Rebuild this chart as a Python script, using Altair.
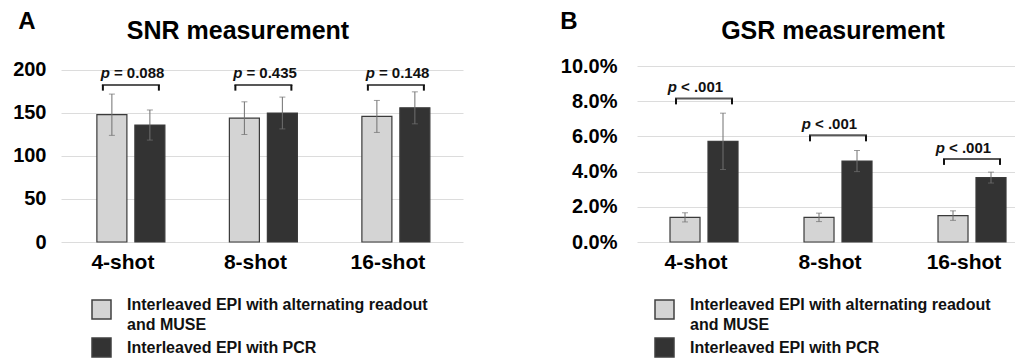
import altair as alt
import pandas as pd

FONT = "Liberation Sans"

categories = ["4-shot", "8-shot", "16-shot"]
series = ["Interleaved EPI with alternating readout and MUSE", "Interleaved EPI with PCR"]
colors = ["#d4d4d4", "#333333"]

# SNR values (mean, half error bar)
snr_muse = [148, 144, 146]
snr_muse_err = [24, 19, 18.6]
snr_pcr = [136, 150, 156]
snr_pcr_err = [17.5, 18.5, 18.6]
snr_p = ["= 0.088", "= 0.435", "= 0.148"]
snr_bracket_top = [182.6, 182.6, 182.6]
snr_bracket_leg = [176, 176, 176]
snr_text_y = [196.5, 196.5, 196.5]

# GSR values (fractions)
gsr_muse = [0.0140, 0.0140, 0.0150]
gsr_muse_err = [0.0026, 0.0024, 0.0027]
gsr_pcr = [0.0572, 0.0460, 0.0366]
gsr_pcr_err = [0.0160, 0.0060, 0.0031]
gsr_p = ["< .001", "< .001", "< .001"]
gsr_bracket_top = [0.0816, 0.0606, 0.0472]
gsr_bracket_leg = [0.0782, 0.0572, 0.0438]
gsr_text_y = [0.0880, 0.0670, 0.0536]

snr_ticks = [0, 50, 100, 150, 200]
gsr_ticks = [0, 0.02, 0.04, 0.06, 0.08, 0.1]

panel_letters = ["A", "B"]
panel_titles = ["SNR measurement", "GSR measurement"]


def bars_df(m, me, p, pe):
    rows = []
    for i, c in enumerate(categories):
        rows.append(dict(cat=c, series=series[0], v=m[i], lo=m[i] - me[i], hi=m[i] + me[i]))
        rows.append(dict(cat=c, series=series[1], v=p[i], lo=p[i] - pe[i], hi=p[i] + pe[i]))
    return pd.DataFrame(rows)


def ann_df(top, leg, ty, txt):
    return pd.DataFrame(dict(cat=categories, top=top, leg=leg, ty=ty, txt=txt))


label_expr = ("test(/ and /, datum.label) ? "
              "split(replace(datum.label, ' and ', '|and '), '|') : datum.label")


def panel(df, ann, letter, title, width, height, ydomain, yvalues, yfmt,
          pi, po, align, lab_pad, legx, legy, letter_xy, title_xy, pdx, half):
    x = alt.X("cat:N", sort=categories, title=None,
              scale=alt.Scale(paddingInner=pi, paddingOuter=po, align=align),
              axis=alt.Axis(labelFont=FONT, labelFontSize=21, labelFontWeight="bold",
                            labelColor="#000", labelAngle=0, ticks=False, domain=False,
                            labelPadding=9, labelOffset=-8))
    xo = alt.XOffset("series:N", sort=series,
                     scale=alt.Scale(paddingInner=0.21, paddingOuter=0))
    y = alt.Y("v:Q", title=None,
              scale=alt.Scale(domain=ydomain, nice=False),
              axis=alt.Axis(values=yvalues, tickCount=len(yvalues), format=yfmt,
                            labelFont=FONT, labelFontSize=20,
                            labelFontWeight="bold", labelColor="#000", ticks=False,
                            domain=False, labelPadding=lab_pad, gridColor="#dcdcdc",
                            gridWidth=1, labelOverlap=False, labelBound=False))
    base = alt.Chart(df)
    bars = base.mark_bar(stroke="#3a3a3a", strokeWidth=1.2).encode(
        x=x, xOffset=xo, y=y,
        color=alt.Color("series:N", sort=series,
                        scale=alt.Scale(domain=series, range=colors),
                        legend=alt.Legend(orient="none", legendX=legx, legendY=legy,
                                          direction="vertical", title=None,
                                          symbolType="square", symbolSize=361,
                                          symbolStrokeColor="#404040", symbolStrokeWidth=1.5,
                                          labelFont=FONT, labelFontSize=16,
                                          labelFontWeight="bold", labelColor="#111",
                                          labelOffset=15, labelLimit=600, padding=0,
                                          rowPadding=2, labelExpr=label_expr,
                                          labelBaseline={"expr": "datum.index == 0 ? 'alphabetic' : 'middle'"})))
    err = base.mark_rule(color="#707070", strokeWidth=1).encode(
        x=x, xOffset=xo, y="lo:Q", y2="hi:Q")
    cap_hi = base.mark_tick(color="#707070", thickness=1, size=6).encode(
        x=x, xOffset=xo, y="hi:Q")
    cap_lo = base.mark_tick(color="#707070", thickness=1, size=6).encode(
        x=x, xOffset=xo, y="lo:Q")

    a = alt.Chart(ann)
    br_top = a.mark_tick(color="#111", thickness=2, size=2 * half + 2).encode(x=x, y="top:Q")
    br_l = a.mark_rule(color="#111", strokeWidth=2, xOffset=-half).encode(
        x=x, y="top:Q", y2="leg:Q")
    br_r = a.mark_rule(color="#111", strokeWidth=2, xOffset=half).encode(
        x=x, y="top:Q", y2="leg:Q")
    p_txt = a.mark_text(font=FONT, fontSize=15, fontWeight="bold", fontStyle="italic",
                        align="right", baseline="middle", dx=pdx + 9, color="#111").encode(
        x=x, y="ty:Q", text=alt.value("p"))
    rest_txt = a.mark_text(font=FONT, fontSize=15, fontWeight="bold",
                           align="left", baseline="middle", dx=pdx + 13, color="#111").encode(
        x=x, y="ty:Q", text="txt:N")

    lab = alt.Chart(pd.DataFrame(dict(t=[letter]))).mark_text(
        font=FONT, fontSize=24, fontWeight="bold", color="#000", baseline="middle").encode(
        text="t:N", x=alt.value(letter_xy[0]), y=alt.value(letter_xy[1]))
    ttl = alt.Chart(pd.DataFrame(dict(t=[title]))).mark_text(
        font=FONT, fontSize=25, fontWeight="bold", color="#000", baseline="middle").encode(
        text="t:N", x=alt.value(title_xy[0]), y=alt.value(title_xy[1]))

    return alt.layer(bars, err, cap_hi, cap_lo, br_top, br_l, br_r, p_txt, rest_txt,
                     lab, ttl).properties(width=width, height=height)


A = panel(bars_df(snr_muse, snr_muse_err, snr_pcr, snr_pcr_err),
          ann_df(snr_bracket_top, snr_bracket_leg, snr_text_y, snr_p),
          panel_letters[0], panel_titles[0], 402, 176, [0, 204.65], snr_ticks, "d",
          0.4868, 0.2604, 0.52, 15, 30, 233, (-34, -44.2), (177, -34.7), -30, 28)

B = panel(bars_df(gsr_muse, gsr_muse_err, gsr_pcr, gsr_pcr_err),
          ann_df(gsr_bracket_top, gsr_bracket_leg, gsr_text_y, gsr_p),
          panel_letters[1], panel_titles[1], 378, 176, [0, 0.1], gsr_ticks, ".1%",
          0.4925, 0.1567, 0.786, 20, 17, 233, (-68, -44.2), (196, -34.7), -36, 28)

chart = alt.hconcat(A, B, spacing=97).resolve_scale(
    color="independent"
).resolve_legend(color="independent").properties(
    padding={"left": 4, "top": 1, "right": 0, "bottom": 0}
).configure(view={"stroke": None}, style={"guide-label": {"lineHeight": 20}})

chart.save("out.html", embed_options={"renderer": "svg", "actions": False})
